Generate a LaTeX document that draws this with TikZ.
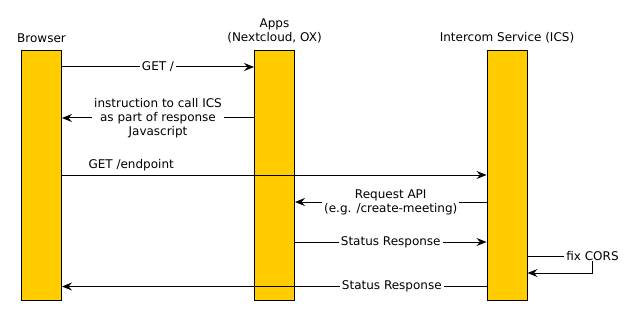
\documentclass[tikz,border=0pt]{standalone}
\usepackage{fontspec}
\setmainfont{DejaVu Sans}
\usetikzlibrary{arrows.meta,positioning}

\definecolor{icsyellow}{HTML}{FFCC00}

\tikzstyle{lifeline} = [rectangle, draw, fill=icsyellow, line width=1pt,
minimum width=40pt, minimum height=249pt, inner sep=0pt]
\tikzstyle{header} = [align=center, inner sep=0pt, font=\fontsize{12}{14}\selectfont]
\tikzstyle{message} = [fill=white, align=center, inner xsep=2pt, inner ysep=0pt, font=\fontsize{12}{14}\selectfont]
\tikzstyle{line} = [draw, line width=1pt]
\tikzstyle{arrow} = [line width=1pt, -{Stealth[length=10pt,width=8pt,inset=3.5pt]}, draw]

\begin{document}
\begin{tikzpicture}[x=1pt,y=-1pt]
\useasboundingbox (0,0) rectangle (636,315);

	%Lifelines of the three parties
	\node[lifeline](Browser) at (41.5,175.5) {};
	\node[lifeline](Apps) at (274.5,175.5) {};
	\node[lifeline](ICS) at (507,175.5) {};

	%Headers above the lifelines
	\node[header](Browser_head) at (41.5,38) {Browser};
	\node[header](Apps_head) at (274.5,31) {Apps\\(Nextcloud, OX)};
	\node[header](ICS_head) at (507,38) {Intercom Service (ICS)};

	%Rows of the messages
	\coordinate (m1) at (0,67);
	\coordinate (m2) at (0,118);
	\coordinate (m3) at (0,175);
	\coordinate (m4) at (0,202);
	\coordinate (m5) at (0,242);
	\coordinate (m6) at (0,256);
	\coordinate (m7) at (0,273);
	\coordinate (m8) at (0,286.5);

	%Messages between the lifelines
	\path[arrow] (Browser.east |- m1) -- node[message]{GET /} (Apps.west |- m1);
	\path[arrow] (Apps.west |- m2) -- node[message]{instruction to call ICS\\as part of response\\Javascript} (Browser.east |- m2);
	\path[arrow] (Browser.east |- m3) -- node[message, fill=none, pos=0.163, yshift=10pt]{GET /endpoint} (ICS.west |- m3);
	\path[arrow] (ICS.west |- m4) -- node[message]{Request API\\(e.g. /create-meeting)} (Apps.east |- m4);
	\path[arrow] (Apps.east |- m5) -- node[message]{Status Response} (ICS.west |- m5);

	%Self message of the ICS
	\node[message](CORS) at (592.5,256) {fix CORS};
	\path[line] (ICS.east |- m6) -- (CORS);
	\path[arrow] (CORS) |- (ICS.east |- m7);

	\path[arrow] (ICS.west |- m8) -- node[message, pos=0.223]{Status Response} (Browser.east |- m8);
\end{tikzpicture}
\end{document}
